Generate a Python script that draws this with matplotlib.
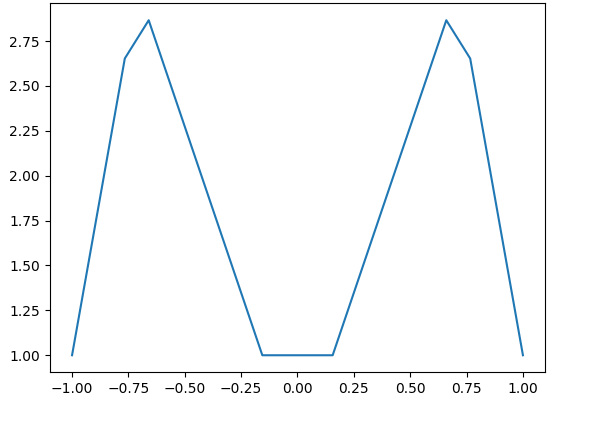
import matplotlib
matplotlib.use("Agg")
import matplotlib.pyplot as plt

x_vals = [-1.0, -0.766, -0.66, -0.156, 0.156, 0.66, 0.766, 1.0]
y_vals = [1.0, 2.653, 2.866, 1.0, 1.0, 2.866, 2.653, 1.0]

fig, ax = plt.subplots(figsize=(6.09, 4.25), dpi=100)
fig.subplots_adjust(left=0.0813, right=0.8957, top=0.9918, bottom=0.1247)
ax.plot(x_vals, y_vals)

fig.savefig("out.png", dpi=100)
